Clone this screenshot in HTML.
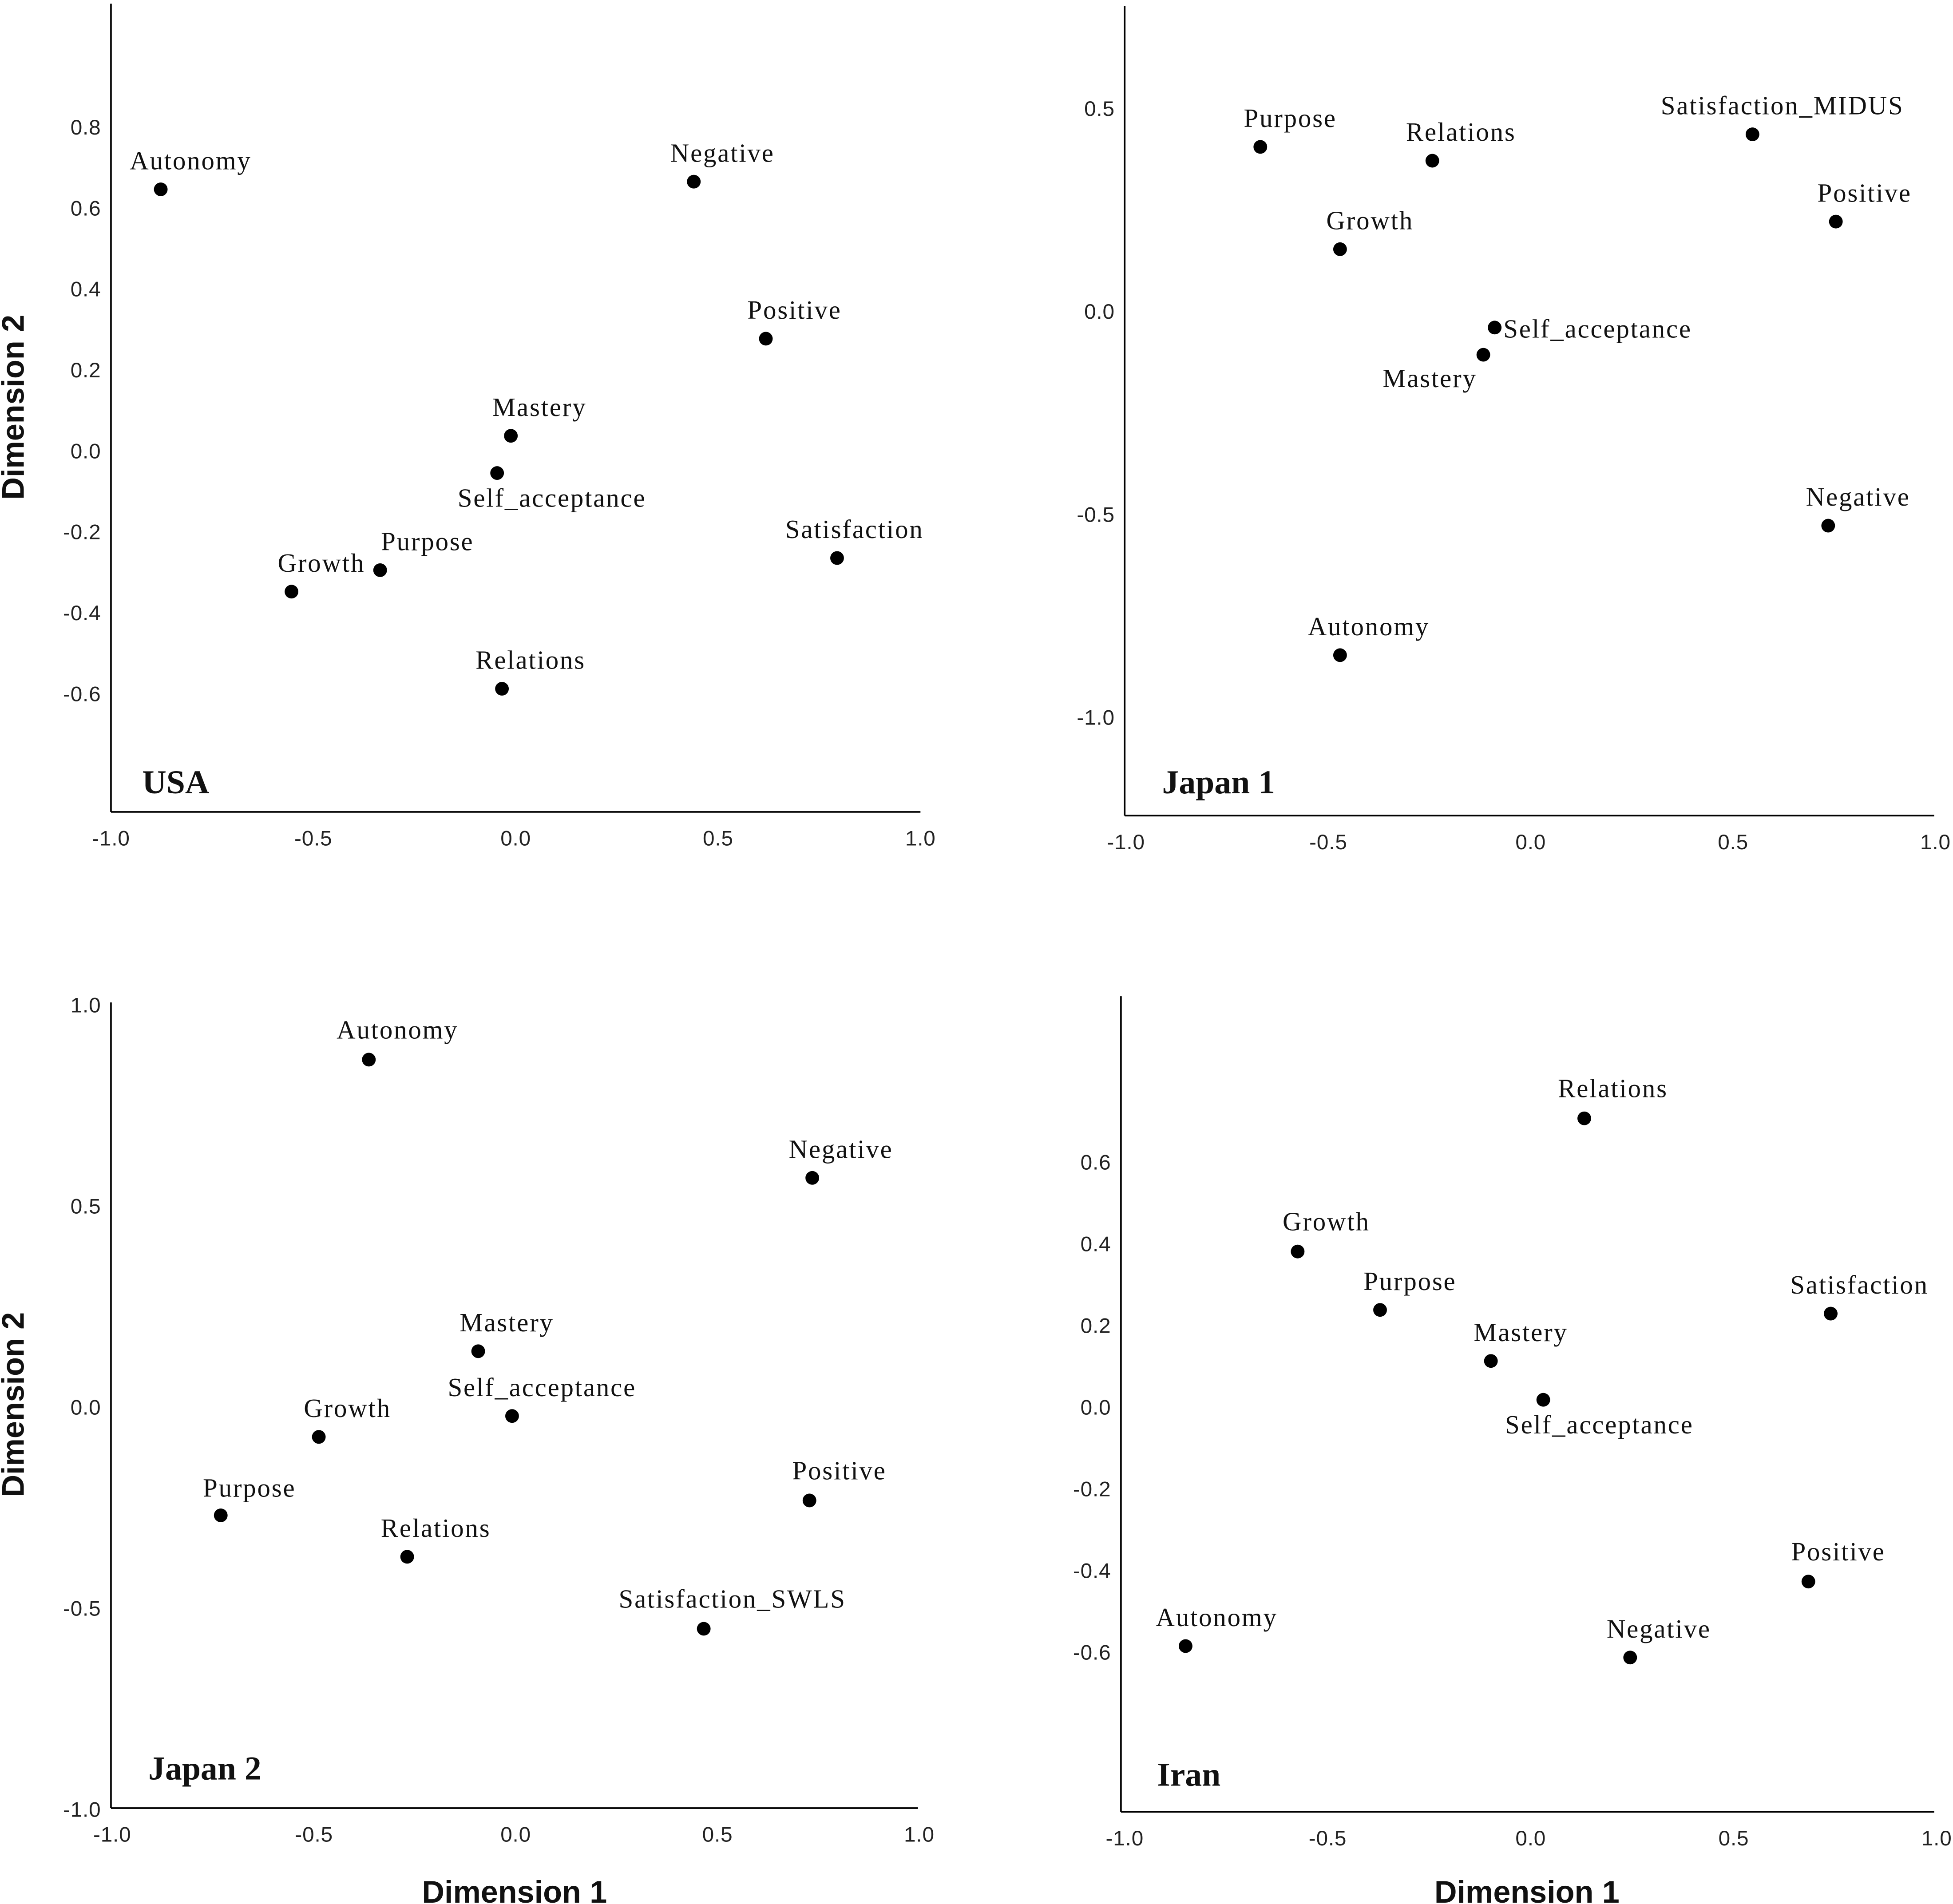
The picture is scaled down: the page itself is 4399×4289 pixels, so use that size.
<!DOCTYPE html>
<html><head><meta charset="utf-8"><style>
html,body{margin:0;padding:0;background:#fff;}
svg{display:block;}
.tick{font-family:"Liberation Sans",Arial,sans-serif;font-size:17px;fill:#222;letter-spacing:0.3px;}
.lab{font-family:"Liberation Serif","Times New Roman",serif;font-size:21px;fill:#111;letter-spacing:1px;}
.ptitle{font-family:"Liberation Serif","Times New Roman",serif;font-size:27px;font-weight:bold;fill:#111;}
.atitle{font-family:"Liberation Sans",Arial,sans-serif;font-size:25px;font-weight:bold;fill:#111;}
</style></head><body>
<svg id="chart" width="4399" height="4289" viewBox="0 0 1568 1529" xmlns="http://www.w3.org/2000/svg">
<text class="atitle" transform="translate(19,327) rotate(-90)" text-anchor="middle">Dimension 2</text>
<text class="atitle" transform="translate(19,1128) rotate(-90)" text-anchor="middle">Dimension 2</text>
<text class="atitle" x="413" y="1528" text-anchor="middle">Dimension 1</text>
<text class="atitle" x="1226" y="1528" text-anchor="middle">Dimension 1</text>
</svg>
<script>
// ---- data ----
const usaNames = ["Autonomy","Negative","Positive","Mastery","Self_acceptance","Satisfaction","Purpose","Growth","Relations"];
const usaX = [-0.877,0.44,0.618,-0.012,-0.046,0.794,-0.335,-0.554,-0.034];
const usaY = [0.646,0.665,0.277,0.037,-0.055,-0.265,-0.295,-0.348,-0.588];

const jp1Names = ["Purpose","Relations","Satisfaction_MIDUS","Positive","Growth","Self_acceptance","Mastery","Negative","Autonomy"];
const jp1X = [-0.668,-0.243,0.548,0.754,-0.471,-0.089,-0.117,0.735,-0.471];
const jp1Y = [0.405,0.371,0.436,0.221,0.153,-0.04,-0.107,-0.528,-0.847];

const jp2Names = ["Autonomy","Negative","Mastery","Self_acceptance","Growth","Positive","Purpose","Relations","Satisfaction_SWLS"];
const jp2X = [-0.364,0.735,-0.093,-0.009,-0.488,0.728,-0.731,-0.269,0.466];
const jp2Y = [0.864,0.570,0.139,-0.022,-0.074,-0.232,-0.269,-0.372,-0.551];

const iranNames = ["Relations","Growth","Purpose","Satisfaction","Mastery","Self_acceptance","Positive","Autonomy","Negative"];
const iranX = [0.132,-0.574,-0.371,0.739,-0.098,0.031,0.684,-0.85,0.245];
const iranY = [0.707,0.381,0.238,0.229,0.113,0.018,-0.427,-0.585,-0.613];

const xTicks = ["-1.0","-0.5","0.0","0.5","1.0"];
const usaYTicks = ["0.8","0.6","0.4","0.2","0.0","-0.2","-0.4","-0.6"];
const jp1YTicks = ["0.5","0.0","-0.5","-1.0"];
const jp2YTicks = ["1.0","0.5","0.0","-0.5","-1.0"];
const iranYTicks = ["0.6","0.4","0.2","0.0","-0.2","-0.4","-0.6"];

// label placement (layout, px offsets from point)
const usaLab = [[24,-16,"m"],[23,-16,"m"],[23,-16,"m"],[23,-16,"m"],[44,27,"m"],[14,-16,"m"],[38,-16,"m"],[24,-16,"m"],[23,-16,"m"]];
const jp1Lab = [[24,-16,"m"],[23,-16,"m"],[24,-16,"m"],[23,-16,"m"],[24,-16,"m"],[7,8,"s"],[-43,26,"m"],[24,-16,"m"],[23,-16,"m"]];
const jp2Lab = [[23,-17,"m"],[23,-16,"m"],[23,-16,"m"],[24,-16,"m"],[23,-16,"m"],[24,-17,"m"],[23,-15,"m"],[23,-16,"m"],[23,-17,"m"]];
const iranLab = [[23,-17,"m"],[23,-17,"m"],[24,-16,"m"],[23,-16,"m"],[24,-16,"m"],[45,27,"m"],[24,-17,"m"],[25,-16,"m"],[23,-16,"m"]];

const NS = "http://www.w3.org/2000/svg";
const svg = document.getElementById('chart');
function mk(tag, attrs, parent){const e=document.createElementNS(NS,tag);for(const k in attrs)e.setAttribute(k,attrs[k]);(parent||svg).appendChild(e);return e;}

function panel(p){
  const g = mk('g',{});
  
  
  const sx = v => p.x0 + v*p.kx;
  const sy = v => p.y0 - v*p.ky;
  const ya = mk('line',{x1:p.ax,y1:p.top,x2:p.ax,y2:p.bot,stroke:'#000','stroke-width':1.3},g);
  
  
  const xa = mk('line',{x1:p.ax,y1:p.bot,x2:p.right,y2:p.bot,stroke:'#000','stroke-width':1.3},g);
  
  
  xTicks.forEach(t=>{
    const e = mk('text',{class:'tick',x:sx(parseFloat(t)),y:p.bot+27,'text-anchor':'middle'},g);
    e.textContent=t;
    
    
  });
  p.yt.forEach(t=>{
    const e = mk('text',{class:'tick',x:p.ax-8,y:sy(parseFloat(t))+6,'text-anchor':'end'},g);
    e.textContent=t;
    
    
  });
  p.names.forEach((n,i)=>{
    const cx=sx(p.xs[i]), cy=sy(p.ys[i]);
    const c = mk('circle',{cx:cx,cy:cy,r:5.5,fill:'#000'},g);
    
    
    const L=p.lab[i];
    const t = mk('text',{class:'lab',x:cx+L[0],y:cy+L[1],'text-anchor':L[2]==='s'?'start':'middle'},g);
    t.textContent=n;
    
    
  });
  const ti = mk('text',{class:'ptitle',x:p.tx,y:p.ty},g);
  ti.textContent=p.title;
  
  
}

panel({key:'usa',title:'USA',names:usaNames,xs:usaX,ys:usaY,lab:usaLab,yt:usaYTicks,x0:414,kx:325,y0:362,ky:325,ax:89,top:3,bot:652,right:739,tx:114,ty:637});
panel({key:'japan1',title:'Japan 1',names:jp1Names,xs:jp1X,ys:jp1Y,lab:jp1Lab,yt:jp1YTicks,x0:1229,kx:325,y0:250,ky:326,ax:903,top:5,bot:655,right:1553,tx:933,ty:637});
panel({key:'japan2',title:'Japan 2',names:jp2Names,xs:jp2X,ys:jp2Y,lab:jp2Lab,yt:jp2YTicks,x0:414,kx:324,y0:1130,ky:323,ax:89,top:805,bot:1452,right:737,tx:119,ty:1429});
panel({key:'iran',title:'Iran',names:iranNames,xs:iranX,ys:iranY,lab:iranLab,yt:iranYTicks,x0:1229,kx:326,y0:1130,ky:328,ax:900,top:800,bot:1455,right:1553,tx:929,ty:1434});
</script>
</body></html>
